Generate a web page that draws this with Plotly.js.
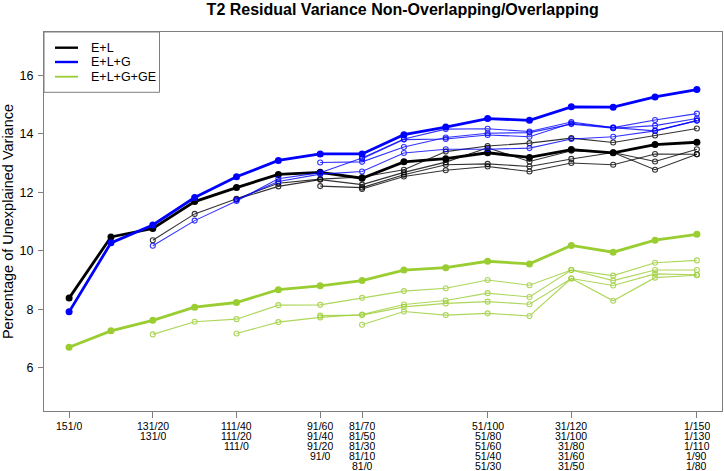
<!DOCTYPE html>
<html>
<head>
<meta charset="utf-8">
<script src="https://cdn.plot.ly/plotly-3.0.1.min.js"></script>
<style>html,body{margin:0;padding:0;background:#fff;}#chart{width:724px;height:471px;}</style>
</head>
<body>
<div id="chart"></div>
<script>
// x positions (overlapping count / 10 of the 151-total design)
const xPos = [0,1,2,3,4,5,6,7,8,9,10,11,12,13,14,15];

// E+L (black)
const EL_1 = [8.38,10.47,10.76,11.68,12.16,12.61,12.68,12.48,13.04,13.15,13.35,13.19,13.46,13.35,13.63,13.71];
const EL_2 = [10.36,11.26,11.78,12.31,12.45,12.52,12.77,13.39,13.58,13.68,13.85,13.70,13.94,14.18];
const EL_3 = [11.76,12.20,12.43,12.26,12.68,13.03,13.52,13.05,13.42,13.36,12.77,13.30];
const EL_4 = [12.21,12.16,12.60,12.94,12.97,12.88,13.14,13.36,13.05,13.47];
const EL_5 = [12.11,12.54,12.75,12.88,12.71,13.00,12.94,13.31,13.30];

// E+L+G (blue)
const ELG_1 = [7.91,10.27,10.88,11.82,12.53,13.09,13.31,13.31,13.97,14.23,14.52,14.46,14.92,14.91,15.26,15.51];
const ELG_2 = [10.17,11.03,11.70,12.46,12.67,13.17,13.82,14.16,14.17,14.08,14.40,14.21,14.47,14.69];
const ELG_3 = [11.74,12.37,12.62,12.71,13.34,13.47,13.47,13.51,13.82,13.90,14.10,14.45];
const ELG_4 = [13.02,13.04,13.55,13.87,14.02,14.04,14.33,14.19,14.28,14.52];
const ELG_5 = [13.15,13.80,13.82,13.96,13.90,14.36,14.21,14.10,14.45];

// E+L+G+GE (green)
const ELGGE_1 = [6.70,7.26,7.62,8.07,8.23,8.67,8.80,8.98,9.34,9.42,9.64,9.55,10.18,9.95,10.36,10.56];
const ELGGE_2 = [7.14,7.57,7.66,8.14,8.15,8.39,8.62,8.72,9.00,8.82,9.34,9.15,9.59,9.67];
const ELGGE_3 = [7.17,7.56,7.72,7.82,8.16,8.30,8.55,8.42,9.34,8.98,9.34,9.34];
const ELGGE_4 = [7.78,7.80,8.08,8.20,8.26,8.17,9.05,8.81,9.21,9.18];
const ELGGE_5 = [7.47,7.92,7.80,7.86,7.77,9.05,8.29,9.08,9.16];

const seriesNames = ['E+L','E+L+G','E+L+G+GE'];
const seriesColors = ['#000000','#0000FF','#9ACD32'];
const groups = [
  [EL_1, EL_2, EL_3, EL_4, EL_5],
  [ELG_1, ELG_2, ELG_3, ELG_4, ELG_5],
  [ELGGE_1, ELGGE_2, ELGGE_3, ELGGE_4, ELGGE_5]
];

// x-axis tick positions and multi-line labels
const tickPos = [0,2,4,6,7,10,12,15];
const tickLabels = [
  ['151/0'],
  ['131/20','131/0'],
  ['111/40','111/20','111/0'],
  ['91/60','91/40','91/20','91/0'],
  ['81/70','81/50','81/30','81/10','81/0'],
  ['51/100','51/80','51/60','51/40','51/30'],
  ['31/120','31/100','31/80','31/60','31/50'],
  ['1/150','1/130','1/110','1/90','1/80']
];
const yTicks = [6,8,10,12,14,16];

const traces = [];
groups.forEach((grp, gi) => {
  const col = seriesColors[gi];
  grp.forEach((vals, si) => {
    const xs = xPos.slice(xPos.length - vals.length);
    const thick = si === 0;
    traces.push({
      x: xs, y: vals, type: 'scatter', mode: 'lines+markers',
      name: seriesNames[gi], showlegend: false, hoverinfo: 'skip',
      opacity: thick ? 1 : 0.8,
      line: {color: col, width: thick ? 2.8 : 1.1},
      marker: thick ? {symbol: 'circle', size: 7, color: col}
                    : {symbol: 'circle-open', size: 5, color: col, line: {color: col, width: 1.1}}
    });
  });
});

// plot area in px
const L = 44, R = 2, T = 32, B = 60, W = 724, H = 471;
const pw = W - L - R, ph = H - T - B;
const px = v => (v - L) / pw;          // pixel x -> paper
const py = v => (H - B - v) / ph;      // pixel y -> paper

const annotations = [];
tickPos.forEach((p, i) => {
  tickLabels[i].forEach((t, j) => {
    annotations.push({
      x: p, xref: 'x', y: 0, yref: 'paper', text: t, showarrow: false,
      xanchor: 'center', yanchor: 'middle', yshift: -(15.3 + 10 * j),
      height: 10, valign: 'middle',
      font: {family: 'Liberation Sans, Arial, sans-serif', size: 10.5, color: '#000'}
    });
  });
});

// legend (drawn manually)
const shapes = [{
  type: 'rect', xref: 'paper', yref: 'paper',
  x0: 0, x1: px(159.5), y0: py(92.3), y1: 1,
  line: {color: '#7f7f7f', width: 1}, fillcolor: '#ffffff'
}];
const legY = [47.7, 62, 76.7];
seriesNames.forEach((n, i) => {
  shapes.push({
    type: 'line', xref: 'paper', yref: 'paper',
    x0: px(55), x1: px(78), y0: py(legY[i]), y1: py(legY[i]),
    line: {color: seriesColors[i], width: i === 2 ? 1.8 : 2.4}
  });
  annotations.push({
    x: px(88.5), xref: 'paper', y: py(legY[i]), yref: 'paper', text: n,
    showarrow: false, xanchor: 'left', yanchor: 'middle',
    font: {family: 'Liberation Sans, Arial, sans-serif', size: 12.5, color: '#000'}
  });
});

const layout = {
  width: W, height: H,
  margin: {l: L, r: R, t: T, b: B, pad: 0},
  paper_bgcolor: '#fff', plot_bgcolor: '#fff',
  showlegend: false,
  font: {family: 'Liberation Sans, Arial, sans-serif', color: '#000'},
  title: {
    text: '<b>T2 Residual Variance Non-Overlapping/Overlapping</b>',
    font: {family: 'Liberation Sans, Arial, sans-serif', size: 16, color: '#000'},
    x: 383 / W, xanchor: 'center', xref: 'paper',
    y: 1 - 9 / H, yanchor: 'middle', yref: 'container'
  },
  xaxis: {
    range: [-0.6, 15.6], showgrid: false, zeroline: false,
    showline: true, mirror: true, linecolor: '#7f7f7f', linewidth: 1,
    ticks: 'outside', ticklen: 6, tickcolor: '#7f7f7f', tickwidth: 1,
    tickvals: tickPos, showticklabels: false
  },
  yaxis: {
    range: [4.52, 17.48], showgrid: false, zeroline: false,
    showline: true, mirror: true, linecolor: '#7f7f7f', linewidth: 1,
    ticks: 'outside', ticklen: 5, tickcolor: '#7f7f7f', tickwidth: 1,
    tickvals: yTicks, ticktext: yTicks.map(String),
    tickfont: {size: 12.5, color: '#000'}, ticklabelstandoff: 2,
    title: {text: 'Percentage of Unexplained Variance', font: {size: 14.5, color: '#000'}, standoff: 4}
  },
  shapes: shapes,
  annotations: annotations
};

Plotly.newPlot('chart', traces, layout, {displayModeBar: false, staticPlot: true});
</script>
</body>
</html>
